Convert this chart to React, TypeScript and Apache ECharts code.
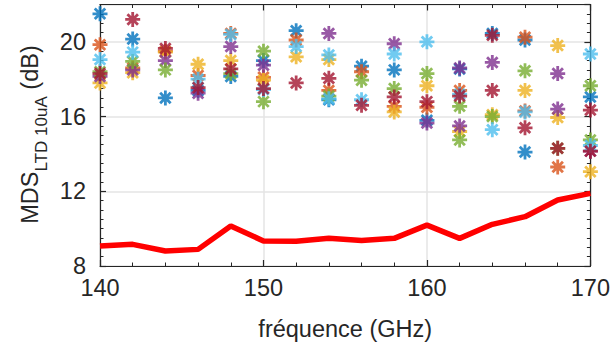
import React, { useEffect, useRef } from "react";
import * as echarts from "echarts";

// Frequencies (GHz) for the red curve
const freqs = [140, 142, 144, 146, 148, 150, 152, 154, 156, 158, 160, 162, 164, 166, 168, 170];
// Red curve values (dB)
const mdsCurve = [9.07, 9.16, 8.8, 8.89, 10.14, 9.34, 9.33, 9.48, 9.37, 9.48, 10.19, 9.48, 10.23, 10.64, 11.53, 11.89];

// Scatter points [freq, dB], grouped by colour
const bluePts = [[140, 21.5], [142, 20.15], [144, 17.0], [146, 17.4], [148, 18.15], [150, 19.0], [152, 20.6], [154, 16.9], [156, 18.7], [158, 18.5], [160, 15.8], [162, 18.55], [164, 20.45], [166, 20.1], [166, 14.1], [170, 17.05]];
const orangePts = [[140, 19.85], [142, 18.6], [144, 19.5], [146, 18.2], [148, 20.45], [150, 18.1], [152, 20.1], [154, 17.4], [156, 18.4], [158, 16.55], [160, 16.5], [162, 17.4], [166, 20.25], [166, 16.3], [168, 13.3]];
const yellowPts = [[140, 17.8], [142, 18.35], [144, 19.45], [146, 18.8], [148, 19.0], [150, 17.95], [152, 19.2], [154, 19.05], [158, 16.25], [160, 17.65], [162, 15.2], [164, 16.1], [166, 17.4], [168, 19.8], [168, 15.95], [170, 13.05]];
const purplePts = [[140, 18.15], [142, 18.5], [144, 19.0], [146, 17.25], [148, 19.75], [150, 18.75], [154, 20.45], [158, 19.9], [160, 15.65], [162, 18.6], [162, 15.5], [164, 18.9], [168, 18.3], [168, 16.4], [170, 14.15]];
const greenPts = [[140, 18.4], [142, 18.95], [144, 18.5], [148, 18.3], [150, 19.5], [150, 16.8], [154, 17.1], [156, 17.95], [158, 17.5], [160, 18.3], [162, 16.55], [162, 14.75], [164, 16.0], [166, 18.45], [168, 14.3], [170, 17.65], [170, 14.75]];
const lightBluePts = [[140, 19.05], [142, 19.45], [146, 18.0], [148, 20.4], [150, 17.45], [152, 19.75], [154, 19.3], [154, 16.95], [156, 16.9], [158, 19.35], [160, 20.0], [162, 17.2], [164, 15.3], [166, 16.25], [170, 19.35], [170, 14.45]];
const darkRedPts = [[140, 18.3], [142, 21.2], [144, 19.65], [146, 17.55], [148, 18.55], [150, 17.5], [152, 17.8], [154, 18.05], [156, 16.6], [158, 17.05], [160, 16.8], [162, 17.1], [164, 20.35], [164, 17.4], [166, 15.4], [168, 14.3], [170, 16.35], [170, 14.15]];

const xTicks = [140, 150, 160, 170];
const yTicks = [8, 12, 16, 20];

const groups = [
  { pts: bluePts, color: "#0072BD" },
  { pts: orangePts, color: "#D95319" },
  { pts: yellowPts, color: "#EDB120" },
  { pts: purplePts, color: "#7E2F8E" },
  { pts: greenPts, color: "#77AC30" },
  { pts: lightBluePts, color: "#4DBEEE" },
  { pts: darkRedPts, color: "#A2142F" },
];

const FONT = "'Liberation Sans', Arial, Helvetica, sans-serif";
const AX = "#262626";
const ASTERISK = "path://M10 0L10 20M0 10L20 10M3 3L17 17M3 17L17 3";

export default function App() {
  const ref = useRef<HTMLDivElement>(null);
  useEffect(() => {
    if (!ref.current) return;
    const chart = echarts.init(ref.current, undefined, { renderer: "svg" });
    const baseX = { type: "value", min: xTicks[0], max: xTicks[xTicks.length - 1] };
    const baseY = { type: "value", min: yTicks[0], max: 22 };
    const hidden = { show: false };
    chart.setOption({
      animation: false,
      backgroundColor: "#ffffff",
      grid: { left: 100, right: 21, top: 4.5, bottom: 86, containLabel: false },
      xAxis: [
        {
          ...baseX, interval: 10, position: "bottom",
          axisLine: { show: true, lineStyle: { color: AX, width: 1.2 } },
          axisTick: { show: true, inside: true, length: 6, lineStyle: { color: AX, width: 1.2 } },
          axisLabel: { color: AX, fontSize: 23.5, fontFamily: FONT, margin: 10 },
          splitLine: { show: true, lineStyle: { color: "#e4e4e4", width: 1.5 } },
          name: "fréquence (GHz)", nameLocation: "middle", nameGap: 51,
          nameTextStyle: { color: AX, fontSize: 23.5, fontFamily: FONT },
        },
        {
          ...baseX, interval: 10, position: "top",
          axisLine: { show: true, lineStyle: { color: AX, width: 1.2 } },
          axisTick: { show: true, inside: true, length: 6, lineStyle: { color: AX, width: 1.2 } },
          axisLabel: hidden, splitLine: hidden,
        },
        {
          ...baseX, interval: 2, position: "bottom",
          axisLine: hidden,
          axisTick: { show: true, inside: true, length: 3.5, lineStyle: { color: AX, width: 1 } },
          axisLabel: hidden, splitLine: hidden,
        },
        {
          ...baseX, interval: 2, position: "top",
          axisLine: hidden,
          axisTick: { show: true, inside: true, length: 3.5, lineStyle: { color: AX, width: 1 } },
          axisLabel: hidden, splitLine: hidden,
        },
      ],
      yAxis: [
        {
          ...baseY, interval: 4, position: "left",
          axisLine: { show: true, lineStyle: { color: AX, width: 1.2 } },
          axisTick: { show: true, inside: true, length: 6, lineStyle: { color: AX, width: 1.2 } },
          axisLabel: { color: AX, fontSize: 23.5, fontFamily: FONT, margin: 14, showMaxLabel: false },
          splitLine: { show: true, lineStyle: { color: "#e4e4e4", width: 1.5 } },
        },
        {
          ...baseY, interval: 4, position: "right",
          axisLine: { show: true, lineStyle: { color: AX, width: 1.2 } },
          axisTick: { show: true, inside: true, length: 6, lineStyle: { color: AX, width: 1.2 } },
          axisLabel: hidden, splitLine: hidden,
        },
        {
          ...baseY, interval: 0.5, position: "left",
          axisLine: hidden,
          axisTick: { show: true, inside: true, length: 3.5, lineStyle: { color: AX, width: 1 } },
          axisLabel: hidden, splitLine: hidden,
        },
        {
          ...baseY, interval: 0.5, position: "right",
          axisLine: hidden,
          axisTick: { show: true, inside: true, length: 3.5, lineStyle: { color: AX, width: 1 } },
          axisLabel: hidden, splitLine: hidden,
        },
      ],
      graphic: [
        {
          type: "text",
          x: 30,
          y: 134.5,
          rotation: Math.PI / 2,
          style: {
            text: "{a|MDS}{b|LTD 10uA}{a| (dB)}",
            align: "center",
            verticalAlign: "middle",
            fill: AX,
            rich: {
              a: { fontSize: 23.5, fontFamily: FONT, lineHeight: 24, verticalAlign: "top", fill: AX },
              b: { fontSize: 17, fontFamily: FONT, lineHeight: 17, padding: [15, 0, 0, 0], verticalAlign: "top", fill: AX },
            },
          },
        },
      ],
      series: [
        ...groups.map((g) => ({
          type: "scatter",
          xAxisIndex: 0,
          yAxisIndex: 0,
          data: g.pts,
          symbol: ASTERISK,
          symbolSize: 15,
          itemStyle: { color: g.color, borderColor: g.color, borderWidth: 2.8 },
          silent: true,
        })),
        {
          type: "line",
          xAxisIndex: 0,
          yAxisIndex: 0,
          data: freqs.map((f, i) => [f, mdsCurve[i]]),
          showSymbol: false,
          symbol: "none",
          lineStyle: { color: "#FF0000", width: 5.5 },
          silent: true,
        },
      ],
    });
    return () => chart.dispose();
  }, []);
  return <div ref={ref} style={{ width: 613, height: 352, position: "absolute", left: 0, top: 0 }} />;
}
